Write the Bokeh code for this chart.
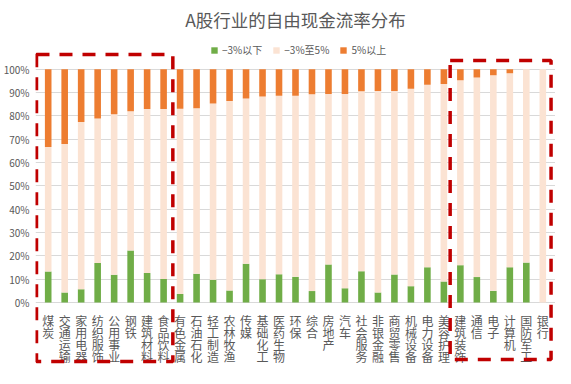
from bokeh.plotting import figure
from bokeh.models import (FactorRange, Range1d, FixedTicker, NumeralTickFormatter,
                          Legend, LegendItem, Label, BoxAnnotation, ColumnDataSource)
from bokeh.embed import file_html
from bokeh.resources import INLINE

# ---------------- data (percent of companies) ----------------
categories = ["煤炭", "交通运输", "家用电器", "纺织服饰", "公用事业", "钢铁", "建筑材料", "食品饮料",
              "有色金属", "石油石化", "轻工制造", "农林牧渔", "传媒", "基础化工", "医药生物", "环保",
              "综合", "房地产", "汽车", "社会服务", "非银金融", "商贸零售", "机械设备", "电力设备",
              "美容护理", "建筑装饰", "通信", "电子", "计算机", "国防军工", "银行"]
below_neg3 = [13.3, 4.3, 5.7, 16.9, 11.9, 22.3, 12.6, 10.1,
              3.6, 12.3, 9.7, 5.1, 16.6, 10.0, 12.1, 11.0,
              4.9, 16.3, 6.1, 13.4, 4.3, 12.0, 7.0, 15.1,
              9.0, 16.0, 10.9, 5.0, 15.1, 17.1, 0.0]
above_5 = [33.3, 32.1, 22.6, 21.1, 19.3, 18.0, 17.1, 17.1,
           16.9, 16.7, 14.7, 13.6, 12.6, 11.7, 11.4, 11.4,
           10.7, 10.6, 10.6, 9.4, 9.3, 9.3, 8.4, 6.7,
           6.3, 4.7, 3.6, 2.6, 1.7, 0.0, 0.0]
series_names = ["−3%以下", "−3%至5%", "5%以上"]
y_ticks = [0, 0.1, 0.2, 0.3, 0.4, 0.5, 0.6, 0.7, 0.8, 0.9, 1.0]
title_text = "A股行业的自由现金流率分布"
left_group = (0, 8)     # first 8 industries boxed
right_group = (25, 31)  # last 6 industries boxed

# derived fractions for the 100% stacked bars
neg = [v / 100 for v in below_neg3]
pos = [v / 100 for v in above_5]
mid = [1 - a - b for a, b in zip(neg, pos)]

GREEN, PINK, ORANGE = "#70ad47", "#fbe3d3", "#ed7d31"
TXT = "#595959"
FONT = "Noto Sans CJK SC"

src = ColumnDataSource(dict(cat=categories, neg=neg, mid=mid, pos=pos))

# per-character source for the vertical category labels
lab_x, lab_ch, lab_off = [], [], []
for c in categories:
    for k, ch in enumerate(c):
        lab_x.append(c)
        lab_ch.append(ch)
        lab_off.append(9 + 12.3 * k)
lab_src = ColumnDataSource(dict(x=lab_x, ch=lab_ch, off=lab_off, y=[0] * len(lab_x)))

p = figure(x_range=FactorRange(factors=categories, range_padding=0.27,
                               range_padding_units="absolute"),
           y_range=Range1d(-0.2829, 1.2945),
           frame_width=520, frame_height=368, output_backend="svg", toolbar_location=None,
           title=None, x_axis_location=None,
           min_border_left=0, min_border_right=0, min_border_top=0, min_border_bottom=0)
p.outline_line_color = None
p.background_fill_color = "white"
p.border_fill_color = "white"

rs = p.vbar_stack(["neg", "mid", "pos"], x="cat", width=0.4, source=src,
                  fill_color=[GREEN, PINK, ORANGE], line_color=None)

# y axis
p.yaxis.ticker = FixedTicker(ticks=y_ticks)
p.yaxis.formatter = NumeralTickFormatter(format="0%")
p.yaxis.axis_line_color = None
p.yaxis.major_tick_line_color = None
p.yaxis.minor_tick_line_color = None
p.yaxis.major_tick_out = 0
p.yaxis.major_label_text_font_size = "10px"
p.yaxis.major_label_text_color = TXT
p.yaxis.major_label_text_font = FONT
p.yaxis.major_label_standoff = 6

p.xgrid.grid_line_color = None
p.ygrid.grid_line_color = "#d9d9d9"

# category labels (vertical, one character per line)
p.text(x="x", y="y", text="ch", y_offset="off", source=lab_src, text_align="center",
       text_baseline="top", text_font_size="12px", text_color=TXT,
       text_font={"value": FONT})

# title
p.add_layout(Label(x=len(categories) / 2, y=1.213, text=title_text, text_align="center",
                   text_baseline="middle", text_font_size="17.5px", text_color=TXT,
                   text_font=FONT))

# legend
legend = Legend(items=[LegendItem(label=n, renderers=[r]) for n, r in zip(series_names, rs)],
                location=(175, 311), orientation="horizontal", glyph_width=8, glyph_height=8,
                label_standoff=4, spacing=10, padding=0, margin=0, label_height=12,
                border_line_color=None, background_fill_alpha=0,
                label_text_font_size="10px", label_text_color=TXT, label_text_font=FONT)
p.add_layout(legend)

# red dashed highlight boxes
for (a, b), lpad, rpad, top, bottom in [(left_group, 0.21, 0.06, 1.063, -0.253),
                                        (right_group, 0.12, 0.0, 1.037, -0.244)]:
    p.add_layout(BoxAnnotation(left=a - lpad, right=b + rpad, top=top, bottom=bottom,
                               fill_alpha=0, line_color="#c00000", line_alpha=1,
                               line_width=3.5, line_dash="13 10"))

open("out.html", "w").write(file_html(p, INLINE))
